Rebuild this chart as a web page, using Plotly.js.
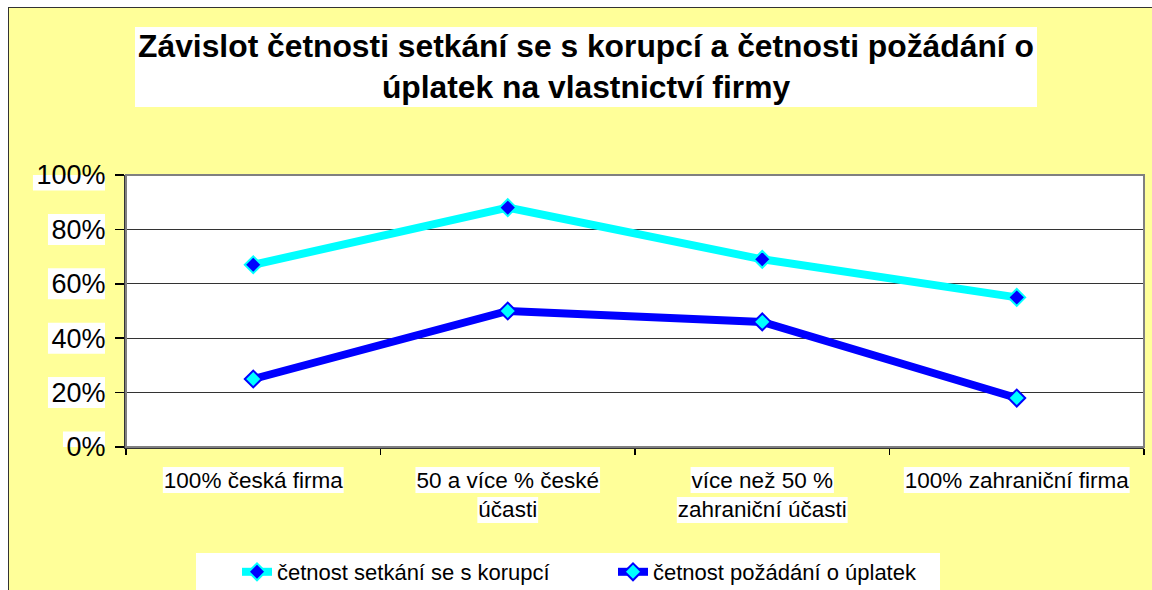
<!DOCTYPE html>
<html><head><meta charset="utf-8">
<script src="https://cdn.plot.ly/plotly-3.0.1.min.js"></script>
<style>html,body{margin:0;padding:0;background:#fff;}#chart{width:1152px;height:590px;}</style>
</head><body><div id="chart"></div>
<script>
// ---- data ----
const categories = ['100% česká firma', '50 a více % české<br>účasti', 'více než 50 %<br>zahraniční účasti', '100% zahraniční firma'];
const seriesNames = ['četnost setkání se s korupcí', 'četnost požádání o úplatek'];
const setkani = [67, 88, 69, 55];
const pozadani = [25, 50, 46, 18];
const yTicks = [0, 20, 40, 60, 80, 100];
const yTickLabels = ['0%', '20%', '40%', '60%', '80%', '100%'];
const titleText = 'Závislot četnosti setkání se s korupcí a četnosti požádání o<br>úplatek na vlastnictví firmy';

// ---- layout helpers ----
const W = 1152, H = 590, L = 126, R = 1144, T = 175, B = 447;
const pw = R - L, ph = B - T;
const px2x = p => (p - L) / pw;
const px2y = p => (B - p) / ph;
const FAM = 'Liberation Sans, Arial, sans-serif';
const ctx = document.createElement('canvas').getContext('2d');
function tw(t, size, bold) { ctx.font = (bold ? 'bold ' : '') + size + 'px "Liberation Sans"'; return ctx.measureText(t).width; }

const YFS = 27, XFS = 22.5, LFS = 22;
const shapes = [];
// white margins + page border
shapes.push({type:'rect', xref:'paper', yref:'paper', x0:px2x(-10), x1:px2x(W+10), y0:px2y(7), y1:px2y(-10), fillcolor:'#fff', line:{width:0}, layer:'below'});
shapes.push({type:'rect', xref:'paper', yref:'paper', x0:px2x(-10), x1:px2x(8), y0:px2y(H+10), y1:px2y(-10), fillcolor:'#fff', line:{width:0}, layer:'below'});
shapes.push({type:'line', xref:'paper', yref:'paper', x0:px2x(8.5), x1:px2x(8.5), y0:px2y(7), y1:px2y(H+5), line:{color:'#333', width:1}, layer:'below'});
shapes.push({type:'line', xref:'paper', yref:'paper', x0:px2x(8), x1:px2x(W+5), y0:px2y(7.5), y1:px2y(7.5), line:{color:'#333', width:1}, layer:'below'});
// title box
shapes.push({type:'rect', xref:'paper', yref:'paper', x0:px2x(135), x1:px2x(1037), y0:px2y(107), y1:px2y(27), fillcolor:'#fff', line:{width:0}, layer:'below'});
// legend box
shapes.push({type:'rect', xref:'paper', yref:'paper', x0:px2x(196), x1:px2x(940), y0:px2y(592), y1:px2y(553), fillcolor:'#fff', line:{width:0}, layer:'below'});
// y tick label boxes
yTickLabels.forEach((lab, i) => {
  const w = tw(lab, YFS);
  shapes.push({type:'rect', xref:'paper', yref:'y', x0:px2x(104 - w - 2), x1:px2x(105),
    y0:yTicks[i] - 15.5 * 100 / ph, y1:yTicks[i] + 15.5 * 100 / ph, fillcolor:'#fff', line:{width:0}, layer:'below'});
});
// x tick label boxes (per line)
categories.forEach((c, i) => {
  c.split('<br>').forEach((line, k) => {
    const w = tw(line, XFS);
    shapes.push({type:'rect', xref:'x', yref:'paper', x0:i - (w / 2 + 1) * 4 / pw, x1:i + (w / 2 + 1) * 4 / pw,
      y0:px2y(493 + 30 * k), y1:px2y(467 + 30 * k), fillcolor:'#fff', line:{width:0}, layer:'below'});
  });
});
// plot frame (gray top/right)
shapes.push({type:'rect', xref:'paper', yref:'paper', x0:0, x1:1, y0:0, y1:1, line:{color:'#808080', width:2}, layer:'above'});

const traces = [
  {x: categories, y: setkani, name: seriesNames[0], type:'scatter', mode:'lines+markers', cliponaxis:false,
   line:{color:'#00FFFF', width:8}, marker:{symbol:'diamond', size:13, color:'#0000FF', line:{color:'#00FFFF', width:2}}},
  {x: categories, y: pozadani, name: seriesNames[1], type:'scatter', mode:'lines+markers', cliponaxis:false,
   line:{color:'#0000FF', width:8}, marker:{symbol:'diamond', size:13, color:'#00FFFF', line:{color:'#0000FF', width:2}}}
];

const layout = {
  width: W, height: H,
  paper_bgcolor:'#FFFF99', plot_bgcolor:'#FFFFFF',
  margin:{l:L, r:W - R, t:T, b:H - B, pad:0, autoexpand:false},
  font:{family:FAM, color:'#000'},
  title:{text:titleText, font:{family:FAM, size:31.8, color:'#000', weight:'bold'},
    x:586 / W, xref:'container', xanchor:'center', y:1 - 57 / H, yref:'container', yanchor:'middle'},
  showlegend:true,
  legend:{orientation:'h', x:px2x(237), y:px2y(551), xanchor:'left', yanchor:'top', bgcolor:'rgba(0,0,0,0)',
    font:{family:FAM, size:LFS, color:'#000'}, entrywidth:331, entrywidthmode:'pixels'},
  xaxis:{type:'category', range:[-0.5, 3.5], tickson:'boundaries', ticks:'outside', ticklen:6, tickwidth:1.5, tickcolor:'#000',
    showline:true, linecolor:'#333', linewidth:2, showgrid:false, zeroline:false, ticklabelstandoff:12,
    tickfont:{family:FAM, size:XFS, color:'#000'}, fixedrange:true},
  yaxis:{range:[0, 100], tickmode:'array', tickvals:yTicks, ticktext:yTickLabels, ticks:'outside', ticklen:9, tickwidth:1.5, tickcolor:'#000',
    showline:true, linecolor:'#333', linewidth:2, showgrid:true, gridcolor:'#333', gridwidth:1, zeroline:false, ticklabelstandoff:4,
    tickfont:{family:FAM, size:YFS, color:'#000'}, fixedrange:true},
  shapes: shapes,
  hovermode:false
};
Plotly.newPlot('chart', traces, layout, {displayModeBar:false, staticPlot:true});
</script>
</body></html>
